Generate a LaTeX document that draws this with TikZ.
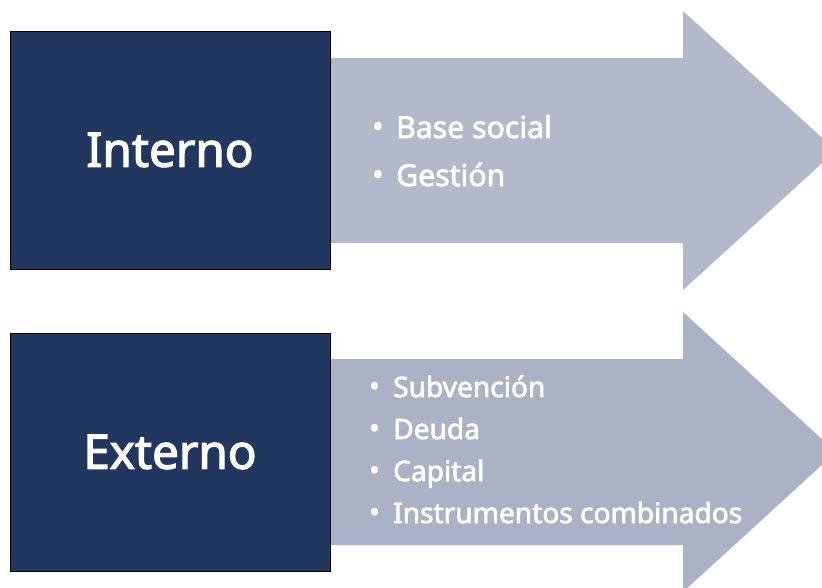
\documentclass[tikz,border=0pt]{standalone}
\usepackage{fontspec}
\setmainfont{Noto Sans}
\newfontfamily\medfont{Noto Sans}[FakeBold=2.5]
\definecolor{navy}{HTML}{22375F}
\definecolor{arrowA}{HTML}{B3B8CB}
\definecolor{arrowB}{HTML}{ACB2C5}
\tikzset{
  boxnode/.style={draw=black, line width=1pt, fill=navy, minimum width=320pt, minimum height=238pt, inner sep=0pt, text=white, font=\medfont\fontsize{47.5}{56}\selectfont},
  itemnode/.style={anchor=base west, inner sep=0pt, text=white},
  topitem/.style={itemnode, font=\medfont\fontsize{30.2}{34}\selectfont},
  botitem/.style={itemnode, font=\medfont\fontsize{28.1}{32}\selectfont}
}
\newcommand{\bul}[1]{\makebox[24pt][l]{\raisebox{1pt}{•}}#1}
\begin{document}
\begin{tikzpicture}[x=1pt,y=-1pt]
\useasboundingbox (0,0) rectangle (822,587);
\clip (0,0) rectangle (822,587);
\fill[white] (0,0) rectangle (822,587);
% top arrow
\fill[arrowA] (330,58) -- (683,58) -- (683,11) -- (836,150.5) -- (683,290) -- (683,243) -- (330,243) -- cycle;
% bottom arrow
\fill[arrowB] (330,359) -- (683,359) -- (683,312) -- (836,452) -- (683,592) -- (683,545) -- (330,545) -- cycle;
\node[boxnode] (interno) at (170,150) {Interno};
\node[boxnode] (externo) at (170,452) {Externo};
\node[topitem] (i1) at (372,138) {\bul{Base social}};
\node[topitem] (i2) at (372,186) {\bul{Gestión}};
\node[botitem] (e1) at (369,397) {\bul{Subvención}};
\node[botitem] (e2) at (369,439) {\bul{Deuda}};
\node[botitem] (e3) at (369,481) {\bul{Capital}};
\node[botitem] (e4) at (369,523) {\bul{Instrumentos combinados}};
\end{tikzpicture}
\end{document}
